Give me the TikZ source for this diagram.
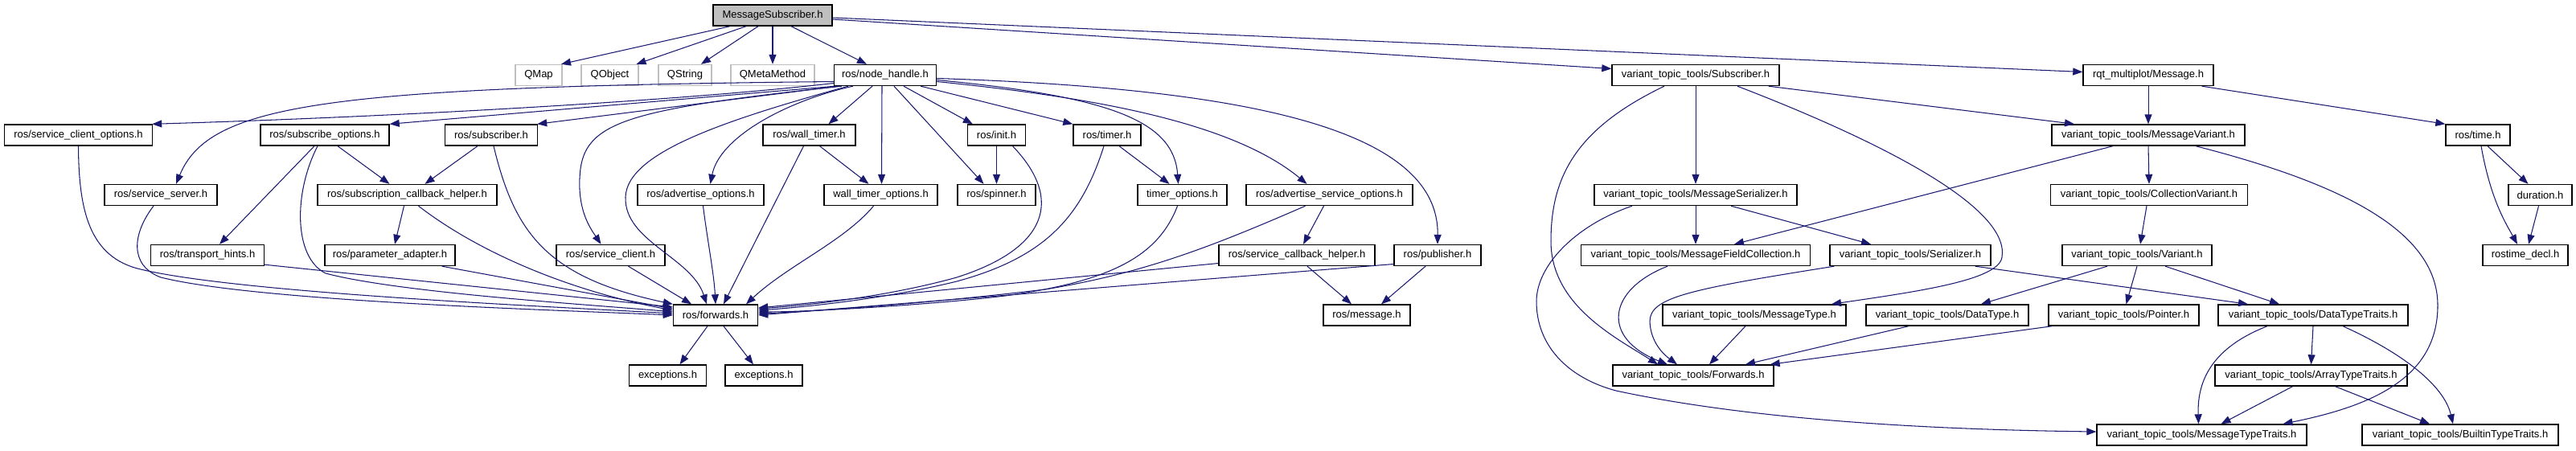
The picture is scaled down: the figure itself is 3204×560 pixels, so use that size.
\documentclass[tikz,border=0pt]{standalone}
\usepackage{fontspec}
\setmainfont{Liberation Sans}
\usetikzlibrary{arrows.meta,calc}
\definecolor{ecol}{HTML}{191970}
\definecolor{qgray}{HTML}{BFBFBF}
\begin{document}
\begin{tikzpicture}[x=1pt,y=-1pt,
  nd/.style={draw=black,line width=1.4pt,minimum height=26pt,inner sep=0pt,
    font=\fontsize{13}{15}\selectfont,fill=white},
  qn/.style={nd,draw=qgray},
  edge/.style={draw=ecol,line width=1.05pt,-{Triangle[length=12pt,width=9pt]}}]
\useasboundingbox (0,0) rectangle (3204,560);
% ---- row 1
\node[nd,fill=qgray,minimum width=148pt] (ms) at (961,19) {MessageSubscriber.h};
% ---- row 2
\node[qn,minimum width=58pt] (qmap) at (670,93.5) {QMap};
\node[qn,minimum width=71pt] (qobject) at (758.5,93.5) {QObject};
\node[qn,minimum width=66pt] (qstring) at (852,93.5) {QString};
\node[qn,minimum width=104pt] (qmeta) at (961,93.5) {QMetaMethod};
\node[nd,minimum width=127pt] (nh) at (1101,93.5) {ros/node\_handle.h};
\node[nd,minimum width=208pt] (vsub) at (2109,93.5) {variant\_topic\_tools/Subscriber.h};
\node[nd,minimum width=162pt] (rqt) at (2672,93.5) {rqt\_multiplot/Message.h};
% ---- row 3
\node[nd,minimum width=184pt] (sco) at (97.5,168) {ros/service\_client\_options.h};
\node[nd,minimum width=160pt] (subopt) at (404,168) {ros/subscribe\_options.h};
\node[nd,minimum width=115pt] (subscriber) at (611,168) {ros/subscriber.h};
\node[nd,minimum width=115pt] (walltimer) at (1006.5,168) {ros/wall\_timer.h};
\node[nd,minimum width=72pt] (init) at (1239.5,168) {ros/init.h};
\node[nd,minimum width=84pt] (timer) at (1377,168) {ros/timer.h};
\node[nd,minimum width=240pt] (msgvar) at (2672,168) {variant\_topic\_tools/MessageVariant.h};
\node[nd,minimum width=80pt] (rostime) at (3082,168) {ros/time.h};
% ---- row 4
\node[nd,minimum width=140pt] (sserver) at (200,242.5) {ros/service\_server.h};
\node[nd,minimum width=223pt] (sch) at (506.5,242.5) {ros/subscription\_callback\_helper.h};
\node[nd,minimum width=157pt] (advopt) at (871.5,242.5) {ros/advertise\_options.h};
\node[nd,minimum width=141pt] (wto) at (1095.5,242.5) {wall\_timer\_options.h};
\node[nd,minimum width=97pt] (spinner) at (1239.5,242.5) {ros/spinner.h};
\node[nd,minimum width=111pt] (timeropt) at (1470.5,242.5) {timer\_options.h};
\node[nd,minimum width=207pt] (aso) at (1653.5,242.5) {ros/advertise\_service\_options.h};
\node[nd,minimum width=252pt] (mser) at (2109,242.5) {variant\_topic\_tools/MessageSerializer.h};
\node[nd,minimum width=245pt] (collvar) at (2673,242.5) {variant\_topic\_tools/CollectionVariant.h};
\node[nd,minimum width=79pt] (duration) at (3159.5,242.5) {duration.h};
% ---- row 5
\node[nd,minimum width=141pt] (thints) at (258,317.5) {ros/transport\_hints.h};
\node[nd,minimum width=162pt] (padapt) at (485,317.5) {ros/parameter\_adapter.h};
\node[nd,minimum width=135pt] (sclient) at (759.5,317.5) {ros/service\_client.h};
\node[nd,minimum width=194pt] (scbh) at (1613,317.5) {ros/service\_callback\_helper.h};
\node[nd,minimum width=108pt] (publisher) at (1788,317.5) {ros/publisher.h};
\node[nd,minimum width=285pt] (mfc) at (2109,317.5) {variant\_topic\_tools/MessageFieldCollection.h};
\node[nd,minimum width=200pt] (serializer) at (2376,317.5) {variant\_topic\_tools/Serializer.h};
\node[nd,minimum width=186pt] (variant) at (2658,317.5) {variant\_topic\_tools/Variant.h};
\node[nd,minimum width=106pt] (rostimedecl) at (3141,317.5) {rostime\_decl.h};
% ---- row 6
\node[nd,minimum width=105pt] (forwards) at (890,392) {ros/forwards.h};
\node[nd,minimum width=108pt] (message) at (1700,392) {ros/message.h};
\node[nd,minimum width=228pt] (msgtype) at (2182,392) {variant\_topic\_tools/MessageType.h};
\node[nd,minimum width=202pt] (datatype) at (2422,392) {variant\_topic\_tools/DataType.h};
\node[nd,minimum width=187pt] (pointer) at (2641.5,392) {variant\_topic\_tools/Pointer.h};
\node[nd,minimum width=236pt] (dtt) at (2877,392) {variant\_topic\_tools/DataTypeTraits.h};
% ---- row 7
\node[nd,minimum width=96pt] (exc1) at (830.5,467) {exceptions.h};
\node[nd,minimum width=96pt] (exc2) at (950,467) {exceptions.h};
\node[nd,minimum width=200pt] (vfwd) at (2106,467) {variant\_topic\_tools/Forwards.h};
\node[nd,minimum width=239pt] (att) at (2874.5,467) {variant\_topic\_tools/ArrayTypeTraits.h};
% ---- row 8
\node[nd,minimum width=261pt] (mtt) at (2738.5,541) {variant\_topic\_tools/MessageTypeTraits.h};
\node[nd,minimum width=244pt] (btt) at (3060,541) {variant\_topic\_tools/BuiltinTypeTraits.h};

% ================= edges
% MessageSubscriber
\draw[edge] ($(ms.south)+(-53,0)$) -- ($(qmap.north)+(28,0)$);
\draw[edge] ($(ms.south)+(-33,0)$) -- ($(qobject.north)+(33,0)$);
\draw[edge] ($(ms.south)+(-18,0)$) -- ($(qstring.north)+(20,0)$);
\draw[edge] (ms.south) -- (qmeta.north);
\draw[edge] ($(ms.south)+(23,0)$) -- ($(nh.north)+(-23,0)$);
\draw[edge] ($(ms.east)+(0,5)$) -- ($(vsub.west)+(0,-8)$);
\draw[edge] ($(ms.east)+(0,3)$) -- ($(rqt.west)+(0,-4)$);
% node_handle
\draw[edge] ($(nh.west)+(0,10)$) .. controls (850,125) and (500,145) .. ($(sco.north east)+(-1,0)$);
\draw[edge] ($(nh.west)+(0,8)$) .. controls (400,108) and (260,130) .. ($(sserver.north)+(19,0)$);
\draw[edge] ($(nh.south west)+(2,0)$) -- (subopt.north east);
\draw[edge] ($(nh.south west)+(6,0)$) -- ($(subscriber.north east)+(-1,0)$);
\draw[edge] ($(nh.south west)+(10,0)$) .. controls (790,135) and (730,150) .. (722,210)
   .. controls (716,260) and (735,285) .. ($(sclient.north)+(-12,0)$);
\draw[edge] ($(nh.south west)+(18,0)$) .. controls (900,150) and (780,190) .. (778,245)
   .. controls (776,300) and (860,320) .. ($(forwards.north)+(-11,0)$);
\draw[edge] ($(nh.south west)+(24,0)$) .. controls (980,125) and (895,170) .. ($(advopt.north)+(12,0)$);
\draw[edge] ($(nh.south)+(-16,0)$) -- ($(walltimer.north)+(24,0)$);
\draw[edge] ($(nh.south)+(-4,0)$) -- ($(wto.north)+(1,0)$);
\draw[edge] ($(nh.south)+(11,0)$) -- ($(spinner.north)+(-16,0)$);
\draw[edge] ($(nh.south)+(23,0)$) -- ($(init.north west)+(7,0)$);
\draw[edge] ($(nh.south east)+(-20,0)$) -- (timer.north west);
\draw[edge] ($(nh.east)+(0,6)$) .. controls (1380,120) and (1460,150) .. ($(timeropt.north)+(-5,0)$);
\draw[edge] ($(nh.east)+(0,8)$) .. controls (1350,120) and (1530,150) .. ($(aso.north)+(-28,0)$);
\draw[edge] ($(nh.east)+(0,4)$) .. controls (1550,110) and (1790,160) .. (publisher.north);
% left group
\draw[edge] ($(subopt.south)+(-13,0)$) -- ($(thints.north)+(15,0)$);
\draw[edge] ($(subopt.south)+(16,0)$) -- ($(sch.north)+(-22,0)$);
\draw[edge] ($(subscriber.south)+(-17,0)$) -- ($(sch.north)+(22,0)$);
\draw[edge] ($(sch.south)+(-4,0)$) -- ($(padapt.north)+(6,0)$);
\draw[edge] (sco.south) .. controls (98,260) and (110,320) .. (175,335)
   .. controls (300,365) and (700,382) .. ($(forwards.west)+(0,-2)$);
\draw[edge] ($(sserver.south)+(-9,0)$) .. controls (165,290) and (160,330) .. (200,345)
   .. controls (320,375) and (700,386) .. (forwards.west);
\draw[edge] ($(subopt.south)+(-9,0)$) .. controls (365,240) and (365,320) .. (405,340)
   .. controls (500,365) and (750,380) .. ($(forwards.west)+(0,-4)$);
\draw[edge] ($(thints.south east)+(0,-2)$) -- ($(forwards.west)+(0,-10)$);
\draw[edge] ($(padapt.south east)+(-17,0)$) -- ($(forwards.west)+(0,-8)$);
\draw[edge] ($(sch.south)+(14,0)$) .. controls (590,310) and (700,360) .. ($(forwards.west)+(0,-6)$);
\draw[edge] ($(subscriber.south)+(3,0)$) .. controls (640,290) and (680,345) .. (forwards.north west);
% top into forwards
\draw[edge] ($(sclient.south)+(22,0)$) -- ($(forwards.north)+(-30,0)$);
\draw[edge] ($(advopt.south)+(3,0)$) .. controls (880,300) and (888,340) .. (forwards.north);
\draw[edge] ($(walltimer.south)+(-7,0)$) -- ($(forwards.north)+(10,0)$);
\draw[edge] ($(wto.south)+(-9,0)$) .. controls (1050,300) and (980,330) .. ($(forwards.north)+(38,0)$);
% right into forwards
\draw[edge] ($(init.south)+(20,0)$) .. controls (1325,250) and (1300,310) .. (1190,345)
   .. controls (1100,370) and (1000,380) .. ($(forwards.east)+(0,-8)$);
\draw[edge] ($(timer.south)+(-4,0)$) .. controls (1345,270) and (1300,320) .. (1190,350)
   .. controls (1100,372) and (1000,382) .. ($(forwards.east)+(0,-6)$);
\draw[edge] ($(timeropt.south)+(-6,0)$) .. controls (1440,320) and (1380,350) .. (1250,368)
   .. controls (1150,380) and (1000,388) .. ($(forwards.east)+(0,-4)$);
\draw[edge] ($(aso.south)+(-30,0)$) .. controls (1500,310) and (1420,340) .. (1300,360)
   .. controls (1150,378) and (1000,388) .. ($(forwards.east)+(0,-2)$);
\draw[edge] ($(scbh.west)+(0,10)$) -- ($(forwards.east)+(0,-9)$);
\draw[edge] ($(publisher.west)+(0,11)$) -- (forwards.east);
% misc middle
\draw[edge] ($(walltimer.south)+(13,0)$) -- ($(wto.north)+(-15,0)$);
\draw[edge] (init.south) -- (spinner.north);
\draw[edge] ($(timer.south)+(15,0)$) -- ($(timeropt.north)+(-16,0)$);
\draw[edge] ($(aso.south)+(-7,0)$) -- ($(scbh.north)+(8,0)$);
\draw[edge] ($(scbh.south)+(13,0)$) -- ($(message.north)+(-19,0)$);
\draw[edge] ($(publisher.south)+(-15,0)$) -- ($(message.north)+(18,0)$);
\draw[edge] ($(forwards.south)+(-10,0)$) -- ($(exc1.north)+(15,0)$);
\draw[edge] ($(forwards.south)+(10,0)$) -- ($(exc2.north)+(-13,0)$);
% right part
\draw[edge] ($(vsub.south east)+(-14,0)$) -- ($(msgvar.north)+(-92,0)$);
\draw[edge] (vsub.south) -- (mser.north);
\draw[edge] ($(vsub.south)+(-39,0)$) .. controls (1960,160) and (1929,220) .. (1929,300)
   .. controls (1929,380) and (2010,420) .. ($(vfwd.north)+(-44,0)$);
\draw[edge] ($(vsub.south)+(52,0)$) .. controls (2350,180) and (2500,260) .. (2490,320)
   .. controls (2486,348) and (2390,362) .. ($(msgtype.north)+(96,0)$);
\draw[edge] (rqt.south) -- (msgvar.north);
\draw[edge] ($(rqt.south east)+(-15,0)$) -- (rostime.north west);
\draw[edge] ($(rostime.south)+(12,0)$) -- ($(duration.north)+(-15,0)$);
\draw[edge] ($(rostime.south)+(4,0)$) .. controls (3098,250) and (3118,280) .. ($(rostimedecl.north)+(-10,0)$);
\draw[edge] ($(duration.south)+(-2,0)$) -- ($(rostimedecl.north)+(4,0)$);
\draw[edge] ($(msgvar.south)+(-44,0)$) -- ($(mfc.north)+(48,0)$);
\draw[edge] (msgvar.south) -- (collvar.north);
\draw[edge] ($(msgvar.south)+(59,0)$) .. controls (2920,230) and (3032,290) .. (3032,380)
   .. controls (3032,470) and (2950,505) .. ($(mtt.north)+(101,0)$);
\draw[edge] (mser.south) -- (mfc.north);
\draw[edge] ($(mser.south)+(44,0)$) -- ($(serializer.north)+(-49,0)$);
\draw[edge] ($(mser.south)+(-79,0)$) .. controls (1960,280) and (1911,330) .. (1911,375)
   .. controls (1911,430) and (1950,470) .. (2010,486)
   .. controls (2200,527) and (2450,535) .. ($(mtt.west)+(0,-4)$);
\draw[edge] ($(mfc.south)+(-35,0)$) .. controls (2000,360) and (1990,420) .. ($(vfwd.north)+(-32,0)$);
\draw[edge] ($(serializer.south west)+(6,0)$) .. controls (2100,360) and (2052,370) .. (2052,400)
   .. controls (2053,425) and (2068,440) .. ($(vfwd.north)+(-20,0)$);
\draw[edge] ($(serializer.south east)+(-20,0)$) -- ($(dtt.north)+(-81,0)$);
\draw[edge] ($(collvar.south)+(-3,0)$) -- ($(variant.north)+(4,0)$);
\draw[edge] ($(variant.south)+(-37,0)$) -- ($(datatype.north)+(42,0)$);
\draw[edge] (variant.south) -- ($(pointer.north)+(3,0)$);
\draw[edge] ($(variant.south)+(35,0)$) -- ($(dtt.north)+(-42,0)$);
\draw[edge] ($(msgtype.south)+(-11,0)$) -- ($(vfwd.north)+(20,0)$);
\draw[edge] ($(datatype.south)+(-48,0)$) -- ($(vfwd.north)+(65,0)$);
\draw[edge] ($(pointer.south west)+(5,0)$) -- ($(vfwd.north east)+(-5,0)$);
\draw[edge] ($(dtt.south)+(-57,0)$) .. controls (2745,435) and (2733,480) .. ($(mtt.north)+(-4,0)$);
\draw[edge] (dtt.south) -- (att.north);
\draw[edge] ($(dtt.south)+(37,0)$) .. controls (2990,440) and (3040,480) .. ($(btt.north)+(-9,0)$);
\draw[edge] ($(att.south)+(-23,0)$) -- ($(mtt.north)+(24,0)$);
\draw[edge] ($(att.south)+(30,0)$) -- ($(btt.north)+(-38,0)$);
\end{tikzpicture}
\end{document}
